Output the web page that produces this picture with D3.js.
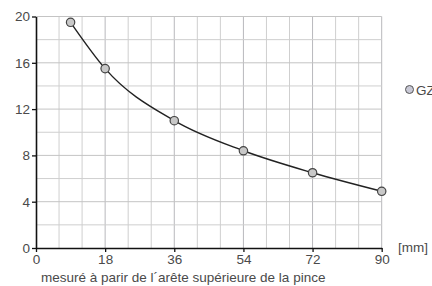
<!DOCTYPE html>
<html><head><meta charset="utf-8">
<script src="https://cdn.jsdelivr.net/npm/d3@7"></script>
<style>html,body{margin:0;padding:0;background:#fff;overflow:hidden}svg{display:block}</style>
</head><body>
<svg id="c" width="432" height="286"></svg>
<script>
const xValues = [9, 18, 36, 54, 72, 90];
const yValues = [19.5, 15.5, 11, 8.4, 6.5, 4.9];
const xTicks = [0, 18, 36, 54, 72, 90];
const yTicks = [0, 4, 8, 12, 16, 20];
const seriesName = "GZ";
const unitLabel = "[mm]";
const xTitle = "mesuré à parir de l´arête supérieure de la pince";

const svg = d3.select("#c");
const font = "Liberation Sans, Arial, sans-serif";
const fs = 13.5;
const txt = "#4a4a4a";
const x = d3.scaleLinear().domain([0, 90]).range([36, 381.7]);
const y = d3.scaleLinear().domain([0, 20]).range([248, 16.5]);

const grid = svg.append("g");
grid.selectAll("line.v").data(d3.range(6, 91, 6)).join("line")
  .attr("x1", d => x(d)).attr("x2", d => x(d)).attr("y1", y(0)).attr("y2", y(20))
  .attr("stroke", d => d % 18 === 0 ? "#b8b8bc" : "#cfcfcf").attr("stroke-width", 1);
grid.selectAll("line.h").data(d3.range(2, 21, 2)).join("line")
  .attr("x1", x(0)).attr("x2", x(90)).attr("y1", d => y(d)).attr("y2", d => y(d))
  .attr("stroke", d => d % 4 === 0 ? "#c4c4c4" : "#cfcfcf").attr("stroke-width", 1);

const xAxis = svg.append("g").attr("transform", `translate(0,${y(0)})`)
  .call(d3.axisBottom(x).tickValues(xTicks).tickSize(4).tickPadding(2).tickSizeOuter(0));
const yAxis = svg.append("g").attr("transform", `translate(${x(0)},0)`)
  .call(d3.axisLeft(y).tickValues(yTicks).tickSize(4).tickPadding(2).tickSizeOuter(0));
[xAxis, yAxis].forEach(a => {
  a.select(".domain").attr("stroke", "#111").attr("stroke-width", 1.6);
  a.selectAll(".tick line").attr("stroke", "#111").attr("stroke-width", 1.3);
  a.selectAll("text").attr("fill", txt).attr("font-family", font).attr("font-size", fs);
});

const data = xValues.map((v, i) => [v, yValues[i]]);
svg.append("path").datum(data)
  .attr("d", d3.line().x(d => x(d[0])).y(d => y(d[1])).curve(d3.curveMonotoneX))
  .attr("fill", "none").attr("stroke", "#222").attr("stroke-width", 1.4);
svg.selectAll("circle.pt").data(data).join("circle")
  .attr("cx", d => x(d[0])).attr("cy", d => y(d[1])).attr("r", 4.2)
  .attr("fill", "#c8c8c8").attr("stroke", "#444").attr("stroke-width", 1.2);

svg.append("circle").attr("cx", 409.5).attr("cy", 89.5).attr("r", 4)
  .attr("fill", "#c9c9d6").attr("stroke", "#555").attr("stroke-width", 1);
svg.append("text").attr("x", 416).attr("y", 94.5).text(seriesName)
  .attr("fill", txt).attr("font-family", font).attr("font-size", fs);

svg.append("text").attr("x", 398).attr("y", 252).text(unitLabel)
  .attr("fill", txt).attr("font-family", font).attr("font-size", fs);
svg.append("text").attr("x", 41).attr("y", 281.5).text(xTitle)
  .attr("fill", txt).attr("font-family", font).attr("font-size", fs);
</script>
</body></html>
